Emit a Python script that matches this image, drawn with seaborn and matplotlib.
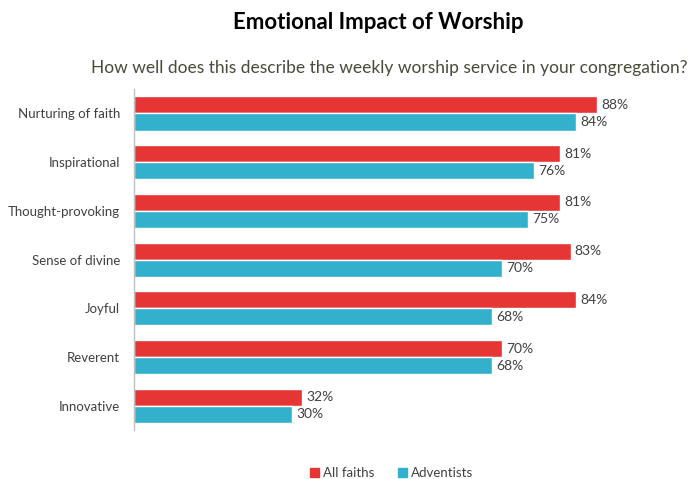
import numpy as np
import pandas as pd
import matplotlib
matplotlib.use("Agg")
import matplotlib.pyplot as plt
import seaborn as sns

categories = ["Nurturing of faith", "Inspirational", "Thought-provoking",
              "Sense of divine", "Joyful", "Reverent", "Innovative"]
all_faiths = [88, 81, 81, 83, 84, 70, 32]
adventists = [84, 76, 75, 70, 68, 68, 30]
series = ["All faiths", "Adventists"]
colors = ["#E53535", "#33B0CB"]

df = pd.DataFrame({
    "category": categories * 2,
    "value": all_faiths + adventists,
    "group": [series[0]] * len(categories) + [series[1]] * len(categories),
})

sns.set_style("white")
plt.rcParams["font.family"] = ["Lato", "DejaVu Sans"]

fig = plt.figure(figsize=(6.91, 4.79), dpi=100)
ax = fig.add_axes([0.194, 0.102, 0.761, 0.712])

sns.barplot(data=df, y="category", x="value", hue="group", orient="h",
            palette=colors, width=0.7, saturation=1, ax=ax, legend=False)

for cont in ax.containers:
    ax.bar_label(cont, labels=[f"{v:.0f}%" for v in cont.datavalues],
                 padding=3, fontsize=10, color="#404040")

ax.set_xlim(0, 100)
ax.set_ylim(6.5, -0.5)
ax.set_xlabel("")
ax.set_ylabel("")
ax.set_xticks([])
ax.tick_params(axis="y", length=0, labelsize=9.5, labelcolor="#404040", pad=10)
for s in ["top", "right", "bottom"]:
    ax.spines[s].set_visible(False)
ax.spines["left"].set_color("#BFBFBF")
ax.spines["left"].set_linewidth(1)

fig.text(0.547, 0.953, "Emotional Impact of Worship", ha="center", va="center",
         fontsize=16, fontweight="bold", color="black")
fig.text(0.563, 0.858, "How well does this describe the weekly worship service in your congregation?",
         ha="center", va="center", fontsize=12.5, color="#4A4A3A")

handles = [plt.Rectangle((0, 0), 1, 1, color=c) for c in colors]
fig.legend(handles, series, loc="center", bbox_to_anchor=(0.567, 0.013),
           ncol=2, frameon=False, fontsize=9.5, handlelength=0.7, handleheight=0.7,
           handletextpad=0.3, columnspacing=1.8, labelcolor="#404040")

fig.savefig("out.png", dpi=100)
